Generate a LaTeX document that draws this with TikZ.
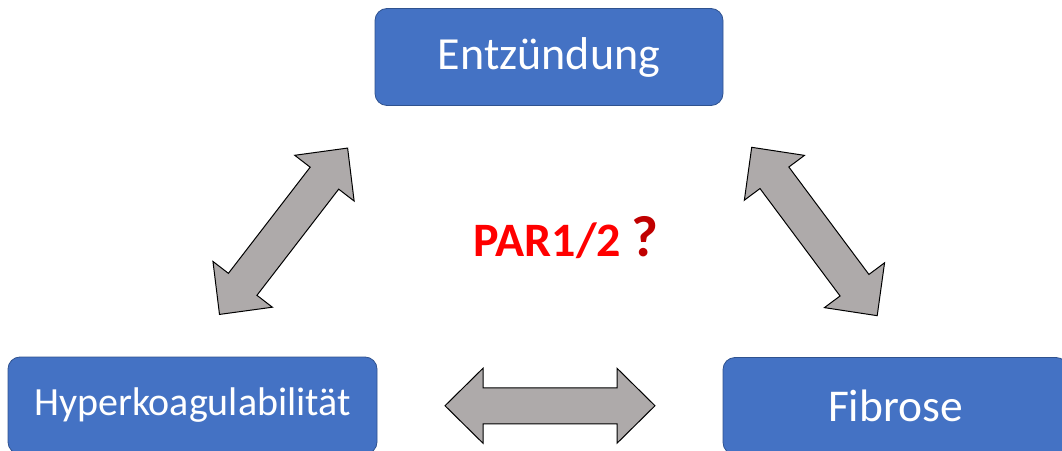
\documentclass[tikz,border=0pt]{standalone}
\usepackage{fontspec}
\setmainfont{Carlito}
\usetikzlibrary{positioning,calc}
\definecolor{accent}{HTML}{4472C4}
\definecolor{edge}{HTML}{2F528F}
\definecolor{shade}{HTML}{AEAAAA}
\definecolor{parred}{HTML}{FF0000}
\definecolor{qred}{HTML}{C00000}
\tikzset{box/.style={draw=edge,fill=accent,line width=.8pt,rounded corners=12pt,text=white,align=center,minimum height=97pt},
  blockarr/.style={draw=black,fill=shade,line width=1pt,line join=miter},
  dblarr/.pic={\draw[blockarr] (-105,0)--(-67,37.5)--(-67,18)--(67,18)--(67,37.5)--(105,0)--(67,-37.5)--(67,-18)--(-67,-18)--(-67,-37.5)--cycle;}}

\begin{document}
\begin{tikzpicture}[x=1pt,y=1pt]
\clip (0,0) rectangle (1062,450);
\node[box,minimum width=348pt,font=\fontsize{46}{55}\selectfont] (ent) at (549,393) {Entzündung};
\node[box,minimum width=369pt,font=\fontsize{40}{48}\selectfont] (hyp) at (192.5,44.5) {Hyperkoagulabilität};
\node[box,minimum width=345pt,font=\fontsize{45.5}{55}\selectfont] (fib) at (895.5,44) {Fibrose};
% fat two-headed arrows between the boxes
\pic[rotate=52.4] at ($(hyp.north)!.5!(ent.south west)$) {dblarr};
\pic[rotate=-53.3] at ($(ent.south east)!.5!(fib.north)+(5,0)$) {dblarr};
\pic at ($(hyp.east)!.5!(fib.west)$) {dblarr};
\node[anchor=base,font=\bfseries\fontsize{48}{58}\selectfont] (par) at (566,193)
  {\textcolor{parred}{PAR1/2} \textcolor{qred}{\fontsize{58}{70}\selectfont ?}};
\end{tikzpicture}
\end{document}
